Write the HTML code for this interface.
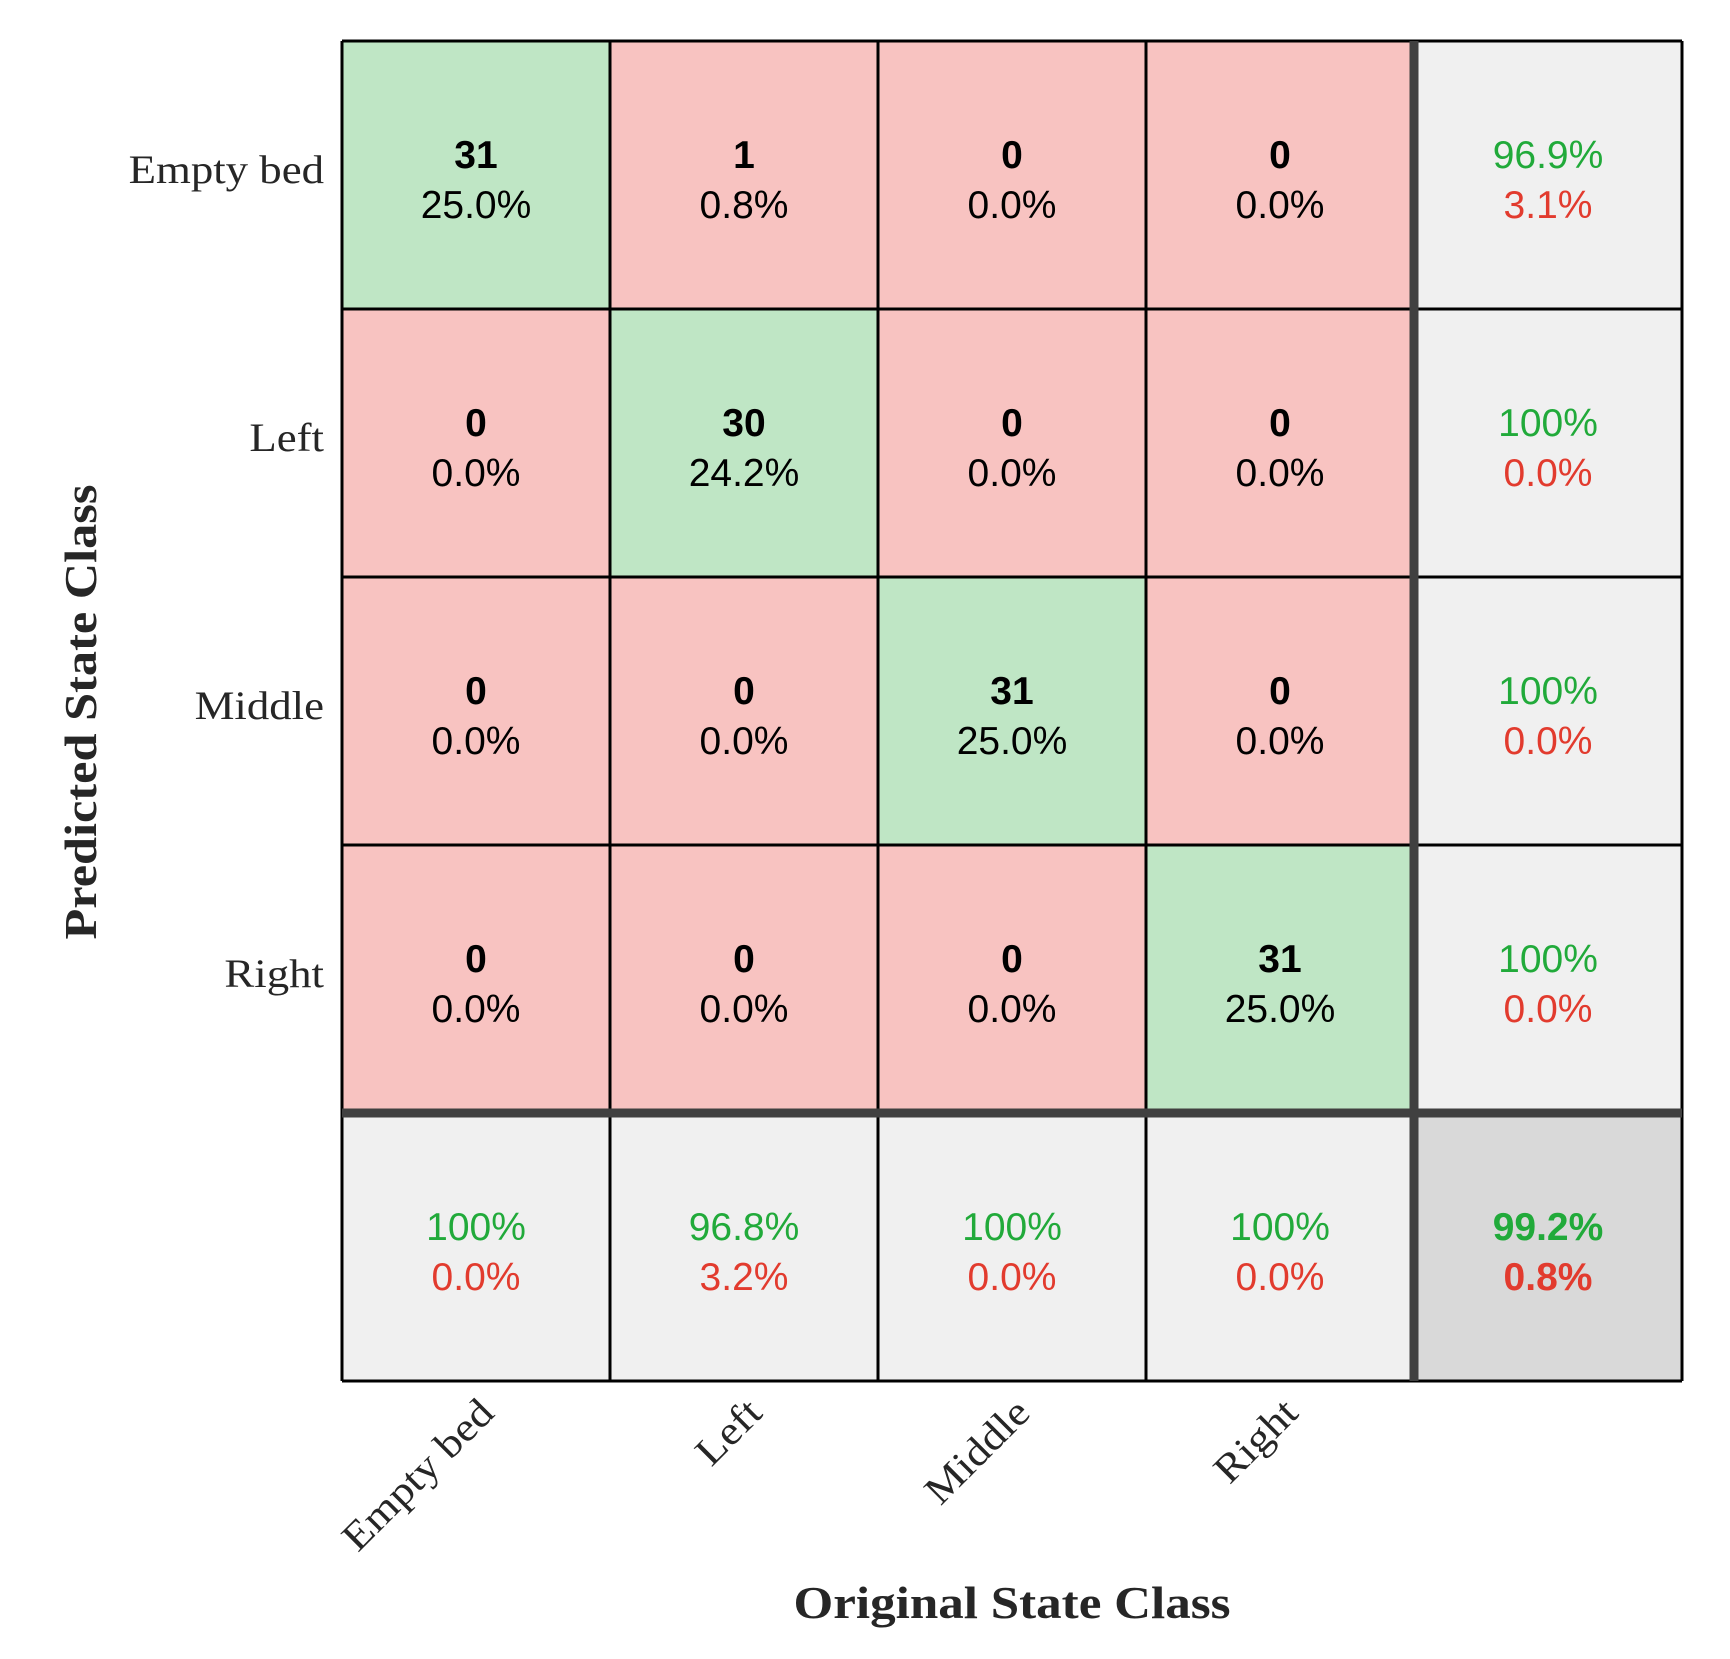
<!DOCTYPE html>
<html><head><meta charset="utf-8"><style>
html,body{margin:0;padding:0;background:#fff;}
svg{display:block;}
</style></head><body>
<svg id="chart" width="1730" height="1659" viewBox="0 0 1730 1659" xmlns="http://www.w3.org/2000/svg">
<g id="cells"></g>
<g id="lines"></g>
<g id="labels"></g>
<text x="1012" y="1618" text-anchor="middle" font-family="Liberation Serif, serif" font-weight="bold" font-size="46" fill="#262626" textLength="437" lengthAdjust="spacingAndGlyphs">Original State Class</text>
<text transform="translate(96,712) rotate(-90)" x="0" y="0" text-anchor="middle" font-family="Liberation Serif, serif" font-weight="bold" font-size="46" fill="#262626" textLength="455" lengthAdjust="spacingAndGlyphs">Predicted State Class</text>
</svg>
<script>
const classes = ["Empty bed", "Left", "Middle", "Right"];
// counts[row=predicted][col=original]
const countsRow0 = [31, 1, 0, 0];
const countsRow1 = [0, 30, 0, 0];
const countsRow2 = [0, 0, 31, 0];
const countsRow3 = [0, 0, 0, 31];
const counts = [countsRow0, countsRow1, countsRow2, countsRow3];

const NS = "http://www.w3.org/2000/svg";
const X0 = 342, Y0 = 41, CELL = 268, N = classes.length;
const xPos = i => X0 + i * CELL;
const yPos = i => Y0 + i * CELL;
const cellsG = document.getElementById('cells');
const linesG = document.getElementById('lines');
const labelsG = document.getElementById('labels');

let total = 0, correct = 0;
counts.forEach((r, i) => r.forEach((v, j) => { total += v; if (i === j) correct += v; }));
const fmt = p => (Math.abs(p - 100) < 1e-9 ? "100%" : p.toFixed(1) + "%");

function mk(tag, attrs, parent) {
  const e = document.createElementNS(NS, tag);
  for (const k in attrs) e.setAttribute(k, attrs[k]);
  parent.appendChild(e);
  return e;
}
function txt(parent, x, y, s, fill, bold, size) {
  const t = mk('text', {x: x, y: y, 'text-anchor': 'middle', 'font-family': 'Liberation Sans, Arial, sans-serif', 'font-size': size || 39, fill: fill, 'font-weight': bold ? 'bold' : 'normal'}, parent);
  t.textContent = s;
  return t;
}

for (let i = 0; i <= N; i++) {
  for (let j = 0; j <= N; j++) {
    let fill;
    if (i < N && j < N) fill = (i === j) ? '#bfe6c5' : '#f8c3c1';
    else if (i === N && j === N) fill = '#d9d9d9';
    else fill = '#f0f0f0';
    const r = mk('rect', {x: xPos(j), y: yPos(i), width: CELL, height: CELL, fill: fill}, cellsG);
    
    
    const cx = xPos(j) + CELL / 2, cy = yPos(i) + CELL / 2;
    let a, b, ca, cb, bold = false, boldB = false;
    if (i < N && j < N) {
      const v = counts[i][j];
      a = String(v); b = (v / total * 100).toFixed(1) + '%';
      ca = '#000'; cb = '#000'; bold = true;
    } else if (i < N) {
      const s = counts[i].reduce((p, c) => p + c, 0);
      const p = s ? counts[i][i] / s * 100 : 0;
      a = fmt(p); b = fmt(100 - p); ca = '#21aa3a'; cb = '#e23b2e';
    } else if (j < N) {
      let s = 0; for (let k = 0; k < N; k++) s += counts[k][j];
      const p = s ? counts[j][j] / s * 100 : 0;
      a = fmt(p); b = fmt(100 - p); ca = '#21aa3a'; cb = '#e23b2e';
    } else {
      const p = correct / total * 100;
      a = fmt(p); b = fmt(100 - p); ca = '#21aa3a'; cb = '#e23b2e'; bold = true; boldB = true;
    }
    const t1 = txt(cellsG, cx, cy - 7, a, ca, bold);
    
    
    const t2 = txt(cellsG, cx, cy + 43, b, cb, boldB);
    
    
  }
}
// thin grid lines
for (let k = 0; k <= N + 1; k++) {
  if (k === N) continue;
  const lv = mk('line', {x1: xPos(k), y1: Y0, x2: xPos(k), y2: yPos(N + 1), stroke: '#000', 'stroke-width': 3}, linesG);
  
  
  const lh = mk('line', {x1: X0, y1: yPos(k), x2: xPos(N + 1), y2: yPos(k), stroke: '#000', 'stroke-width': 3}, linesG);
  
  
}
const tv = mk('line', {x1: xPos(N), y1: Y0, x2: xPos(N), y2: yPos(N + 1), stroke: '#404040', 'stroke-width': 9}, linesG);


const th = mk('line', {x1: X0, y1: yPos(N), x2: xPos(N + 1), y2: yPos(N), stroke: '#404040', 'stroke-width': 9}, linesG);



function widen(t) {
  try {
    const L = t.getComputedTextLength();
    if (L > 0) { t.setAttribute('textLength', (L * 1.12).toFixed(1)); t.setAttribute('lengthAdjust', 'spacingAndGlyphs'); }
  } catch (e) {}
}
// tick labels
classes.forEach((c, i) => {
  const ty = mk('text', {x: X0 - 18, y: yPos(i) + CELL / 2 + 8, 'text-anchor': 'end', 'font-family': 'Liberation Serif, serif', 'font-size': 40, fill: '#262626'}, labelsG);
  
  
  ty.textContent = c;
  widen(ty);
  const ex = xPos(i) + CELL / 2 + 20, ey = yPos(N + 1) + 34;
  const tx = mk('text', {x: 0, y: 0, transform: 'translate(' + ex + ',' + ey + ') rotate(-45)', 'text-anchor': 'end', 'font-family': 'Liberation Serif, serif', 'font-size': 40, fill: '#262626'}, labelsG);
  
  
  tx.textContent = c;
  widen(tx);
});
</script>
</body></html>
